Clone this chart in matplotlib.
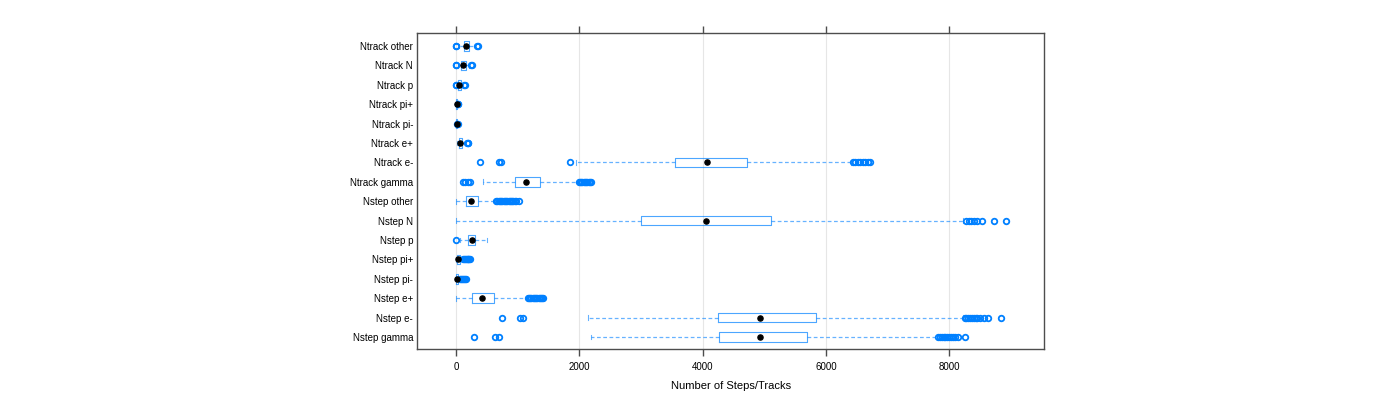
import matplotlib
matplotlib.use("Agg")
import matplotlib.pyplot as plt

plt.rcParams['font.family'] = ['Liberation Sans', 'DejaVu Sans']

# Categories listed top to bottom as shown
categories = ["Ntrack other", "Ntrack N", "Ntrack p", "Ntrack pi+", "Ntrack pi-",
              "Ntrack e+", "Ntrack e-", "Ntrack gamma", "Nstep other", "Nstep N",
              "Nstep p", "Nstep pi+", "Nstep pi-", "Nstep e+", "Nstep e-", "Nstep gamma"]

whislo = [40, 30, 10, 0, 0, 20, 1950, 440, 0, 0, 60, 0, 0, 0, 2140, 2190]
q1     = [120, 80, 30, 5, 3, 40, 3550, 955, 160, 3000, 195, 10, 0, 260, 4250, 4270]
med    = [165, 115, 50, 10, 6, 65, 4070, 1135, 245, 4060, 260, 35, 10, 420, 4930, 4930]
q3     = [210, 160, 80, 15, 10, 100, 4720, 1360, 355, 5110, 305, 60, 30, 620, 5840, 5690]
whishi = [300, 210, 110, 20, 15, 150, 6410, 1975, 630, 8220, 500, 100, 60, 1150, 8230, 7800]
fliers = [
    [0, 5, 340, 355],
    [0, 5, 245, 260],
    [-5, 0, 130, 145],
    [25, 30],
    [20, 25],
    [170, 185, 195],
    [390, 690, 730, 1840, 6440, 6480, 6520, 6560, 6600, 6640, 6680, 6710],
    [110, 140, 200, 230, 1990, 2010, 2030, 2050, 2070, 2090, 2110, 2130, 2150, 2170, 2185],
    [650, 670, 690, 710, 730, 750, 770, 790, 810, 830, 850, 870, 890, 910, 930, 950, 970, 1020],
    [8280, 8320, 8360, 8400, 8450, 8530, 8730, 8920],
    [-10],
    [110, 125, 140, 155, 170, 185, 200, 215, 230],
    [70, 85, 100, 115, 130, 145, 160],
    [1160, 1180, 1200, 1220, 1240, 1260, 1280, 1300, 1320, 1340, 1360, 1380, 1400, 1410],
    [745, 1040, 1080, 8250, 8280, 8310, 8340, 8370, 8400, 8430, 8460, 8500, 8560, 8630, 8840],
    [290, 630, 700, 7820, 7850, 7880, 7910, 7940, 7970, 8000, 8030, 8060, 8100, 8150, 8250],
]

xticks = [0, 2000, 4000, 6000, 8000]

blue = "#0080ff"
n = len(categories)
positions = [n - i for i in range(n)]

stats = []
for i in range(n):
    stats.append(dict(whislo=whislo[i], q1=q1[i], med=med[i], q3=q3[i],
                      whishi=whishi[i], fliers=fliers[i], label=categories[i]))

fig = plt.figure(figsize=(14, 4), dpi=100)
ax = fig.add_axes([0.298, 0.1275, 0.448, 0.79])

ax.bxp(stats, positions=positions, orientation='horizontal', widths=0.5,
       capwidths=0.25, showfliers=True,
       boxprops=dict(color=blue, linewidth=0.8, alpha=0.7),
       whiskerprops=dict(color=blue, linewidth=0.9, linestyle=(0, (3, 2)), alpha=0.6),
       capprops=dict(color=blue, linewidth=0.8, alpha=0.6),
       medianprops=dict(linewidth=0),
       flierprops=dict(marker='o', markerfacecolor='none', markeredgecolor=blue,
                       markersize=4, markeredgewidth=1.3))
ax.plot(med, positions, 'o', color='black', markersize=3.7, zorder=5)

ax.set_xlim(-632, 9546)
ax.set_ylim(0.38, 16.67)
ax.set_xticks(xticks)
ax.set_xticklabels([str(t) for t in xticks])
ax.set_yticks(positions)
ax.set_yticklabels(categories)
ax.grid(axis='x', color='#e6e6e6', linewidth=0.8)
ax.set_axisbelow(True)

ax.tick_params(axis='x', which='both', top=True, bottom=True, labeltop=False,
               direction='out', length=5, width=1, color='#4d4d4d', labelsize=7, pad=4)
ax.tick_params(axis='y', length=0, labelsize=7, pad=3)
for s in ax.spines.values():
    s.set_color('#4d4d4d')
    s.set_linewidth(1)

ax.set_xlabel("Number of Steps/Tracks", fontsize=8, labelpad=7)

fig.savefig("out.png", dpi=100)
